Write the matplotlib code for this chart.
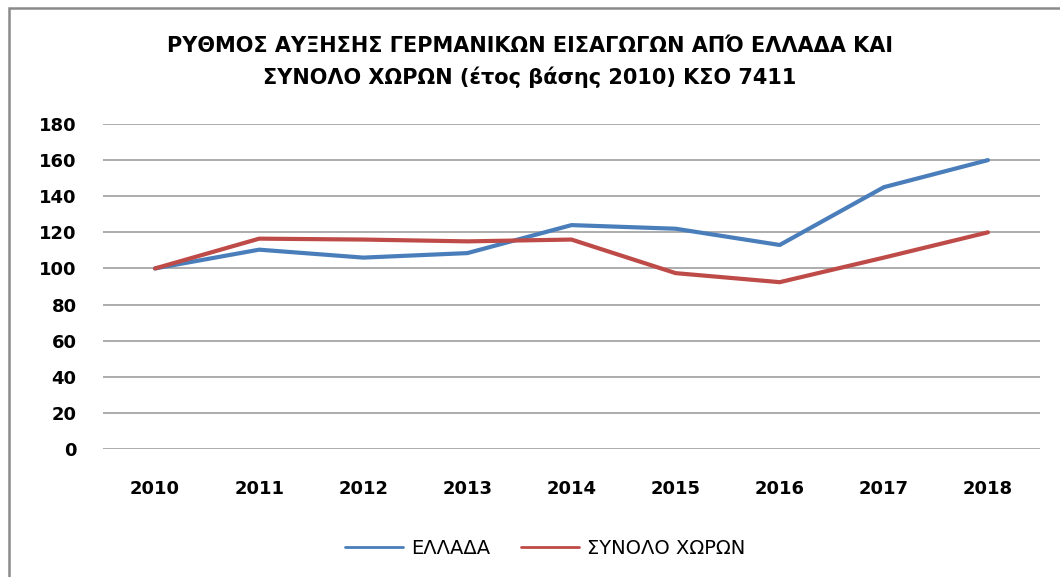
import matplotlib
matplotlib.use("Agg")
import matplotlib.pyplot as plt
from matplotlib.patches import Rectangle

# data
years = ["2010", "2011", "2012", "2013", "2014", "2015", "2016", "2017", "2018"]
ellada = [100, 110.4, 106, 108.5, 124, 122, 113, 145, 160]
synolo = [100, 116.5, 116, 115, 116, 97.4, 92.4, 106, 120]
yticks = [0, 20, 40, 60, 80, 100, 120, 140, 160, 180]

title = "ΡΥΘΜΟΣ ΑΥΞΗΣΗΣ ΓΕΡΜΑΝΙΚΩΝ ΕΙΣΑΓΩΓΩΝ ΑΠΌ ΕΛΛΑΔΑ ΚΑΙ\nΣΥΝΟΛΟ ΧΩΡΩΝ (έτος βάσης 2010) ΚΣΟ 7411"

plt.rcParams['font.family'] = ['DejaVu Sans']

fig = plt.figure(figsize=(10.6, 5.77), dpi=100)
W, H = 1060, 577

# outer chart frame
fig.patches.append(Rectangle((9 / W, -0.05), 1.2, 1 - 8 / H + 0.05,
                             transform=fig.transFigure, fill=False,
                             edgecolor="#8A8A8A", linewidth=1.8))

ax = fig.add_axes([103 / W, 1 - 449 / H, (1040 - 103) / W, (449 - 124) / H])
x = range(len(years))
ax.plot(x, ellada, color="#4A7EBB", linewidth=3, label="ΕΛΛΑΔΑ",
        solid_capstyle="round", solid_joinstyle="round")
ax.plot(x, synolo, color="#BE4B48", linewidth=3, label="ΣΥΝΟΛΟ ΧΩΡΩΝ",
        solid_capstyle="round", solid_joinstyle="round")

ax.set_xlim(-0.5, len(years) - 0.5)
ax.set_ylim(0, 180)
ax.set_yticks(yticks)
ax.set_xticks(list(x))
ax.set_xticklabels(years)
ax.grid(axis="y", color="#A6A6A6", linewidth=1.3)
ax.set_axisbelow(True)
for s in ax.spines.values():
    s.set_visible(False)
ax.tick_params(length=0, labelsize=13)
ax.tick_params(axis="x", pad=22)
ax.tick_params(axis="y", pad=19)
for lab in ax.get_xticklabels() + ax.get_yticklabels():
    lab.set_fontweight("bold")

fig.text(0.5, 1 - 62 / H, title, ha="center", va="center", fontsize=15,
         fontweight="bold", linespacing=1.65)

leg = ax.legend(loc="center", bbox_to_anchor=(545 / W, 1 - 548 / H), bbox_transform=fig.transFigure,
                ncol=2, frameon=False, fontsize=14, handlelength=3.0, columnspacing=1.6,
                handletextpad=0.4)
for ln in leg.get_lines():
    ln.set_linewidth(2)

fig.savefig("out.png", dpi=100)
